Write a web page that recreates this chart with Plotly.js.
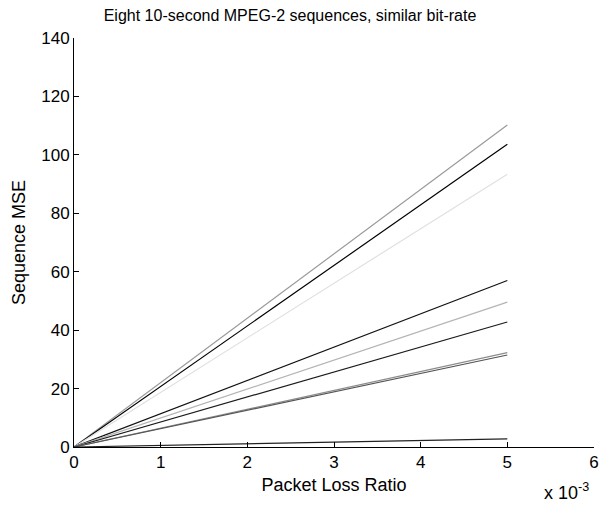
<!DOCTYPE html>
<html>
<head>
<meta charset="utf-8">
<script src="https://cdn.plot.ly/plotly-3.0.1.min.js"></script>
<style>html,body{margin:0;padding:0;background:#fff;}#chart{width:602px;height:508px;}</style>
</head>
<body>
<div id="chart"></div>
<script>
const lossRatio = [0, 0.005];
const seqA = [0, 110.2];
const seqB = [0, 103.6];
const seqC = [0, 93.4];
const seqD = [0, 57.0];
const seqE = [0, 49.6];
const seqF = [0, 42.8];
const seqG = [0, 32.3];
const seqH = [0, 31.5];
const seqI = [0, 2.8];
const seriesList = [seqA, seqB, seqC, seqD, seqE, seqF, seqG, seqH, seqI];
const colors = ['#9a9a9a', '#000000', '#e0e0e0', '#111111', '#b4b4b4', '#1a1a1a', '#8c8c8c', '#555555', '#222222'];
const xTickVals = [0, 0.001, 0.002, 0.003, 0.004, 0.005, 0.006];
const xTickText = ['0', '1', '2', '3', '4', '5', '6'];
const yTickVals = [0, 20, 40, 60, 80, 100, 120, 140];

const traces = seriesList.map((ys, i) => ({
  x: lossRatio, y: ys, type: 'scatter', mode: 'lines',
  line: {color: colors[i], width: 1.2}, showlegend: false, hoverinfo: 'skip'
}));

const font = {family: 'Liberation Sans, Arial, sans-serif', color: '#000'};
const layout = {
  width: 602, height: 508,
  margin: {l: 74, r: 8, t: 38, b: 61},
  paper_bgcolor: '#fff', plot_bgcolor: '#fff',
  font: Object.assign({size: 17}, font),
  title: {text: 'Eight 10-second MPEG-2 sequences, similar bit-rate', font: Object.assign({size: 16}, font), x: 290/602, xanchor: 'center', y: 1 - 15/508, yanchor: 'middle'},
  xaxis: {
    range: [0, 0.006], tickvals: xTickVals, ticktext: xTickText,
    ticks: 'inside', ticklen: 5, tickcolor: '#000', showgrid: false, zeroline: false,
    showline: true, linecolor: '#000', linewidth: 1, tickfont: {size: 17},
    title: {text: 'Packet Loss Ratio', font: {size: 18}, standoff: 6}
  },
  yaxis: {
    range: [0, 140], tickvals: yTickVals,
    ticks: 'inside', ticklen: 5, tickcolor: '#000', showgrid: false, zeroline: false,
    showline: true, linecolor: '#000', linewidth: 1, tickfont: {size: 17},
    title: {text: 'Sequence MSE', font: {size: 18}, standoff: 10}
  },
  annotations: [{
    text: 'x 10<sup>-3</sup>', xref: 'paper', yref: 'paper', x: 0.994, y: -0.108,
    xanchor: 'right', yanchor: 'middle', showarrow: false, font: {size: 18}
  }]
};
Plotly.newPlot('chart', traces, layout, {displayModeBar: false, staticPlot: true});
</script>
</body>
</html>
